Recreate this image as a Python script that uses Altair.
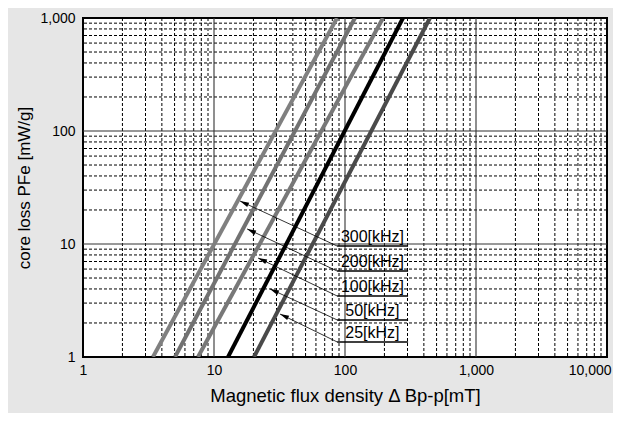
import altair as alt
import pandas as pd

# ---- data ----
freqs = ["300[kHz]", "200[kHz]", "100[kHz]", "50[kHz]", "25[kHz]"]
line_colors = ["#808080", "#727272", "#787878", "#000000", "#4a4a4a"]
# x where each curve crosses PFe = 1 and PFe = 1000
x_at_y1 = [3.42, 5.04, 7.55, 12.8, 20.2]
x_at_y1000 = [86.9, 119, 195, 277, 445]
y_bottom = 1
y_top = 1000

# annotation arrows
tip_x = [15.8, 17.9, 21.7, 26.8, 31.9]
tip_y = [24.0, 13.6, 7.52, 4.0, 2.40]
label_y = [9.6, 5.77, 3.47, 2.13, 1.36]
label_x0 = 87
label_x1 = 303
label_xc = 162

x_major = [10, 100, 1000]
y_major = [10, 100]
x_minor = [m * d for d in [1, 10, 100, 1000] for m in range(2, 10)]
y_minor = [m * d for d in [1, 10, 100] for m in range(2, 10)]
x_ticks = [1, 10, 100, 1000, 10000]
y_ticks = [1, 10, 100, 1000]

FONT = "Liberation Sans"

# ---- tables ----
lines_df = pd.DataFrame(
    [{"f": f, "x": a, "y": y_bottom, "o": 0} for f, a in zip(freqs, x_at_y1)]
    + [{"f": f, "x": b, "y": y_top, "o": 1} for f, b in zip(freqs, x_at_y1000)]
)
ann_df = pd.DataFrame({
    "f": freqs, "tx": tip_x, "ty": tip_y, "ly": label_y,
    "x0": [label_x0] * 5, "x1": [label_x1] * 5, "xc": [label_xc] * 5,
})
xmin_df = pd.DataFrame({"x": x_minor})
ymin_df = pd.DataFrame({"y": y_minor})
xmaj_df = pd.DataFrame({"x": x_major})
ymaj_df = pd.DataFrame({"y": y_major})

xscale = alt.Scale(type="log", domain=[1, 10000], nice=False)
yscale = alt.Scale(type="log", domain=[1, 1000], nice=False)

xaxis = alt.Axis(
    values=x_ticks, format=",.0f", title="Magnetic flux density Δ Bp-p[mT]",
    grid=False, ticks=False, domain=False, labelFlush=False, labelOverlap=False,
    labelAlign={"condition": {"test": "datum.value >= 10000", "value": "right"}, "value": "center"},
    labelOffset={"condition": {"test": "datum.value >= 10000", "value": 4}, "value": 0},
    labelFontSize=14, labelFont=FONT, labelColor="#000", labelPadding=6,
    titleFontSize=18.5, titleFont=FONT, titleFontWeight="normal", titleColor="#000",
    titlePadding=9,
)
yaxis = alt.Axis(
    values=y_ticks, format=",.0f", title="core loss PFe [mW/g]",
    grid=False, ticks=False, domain=False, labelOverlap=False,
    labelFontSize=14, labelFont=FONT, labelColor="#000", labelPadding=8,
    titleFontSize=17, titleFont=FONT, titleFontWeight="normal", titleColor="#000",
    titlePadding=6,
)


def X(field):
    return alt.X(field, type="quantitative", scale=xscale, axis=xaxis)


def Y(field):
    return alt.Y(field, type="quantitative", scale=yscale, axis=yaxis)


grid_minor_x = alt.Chart(xmin_df).mark_rule(
    color="#000", strokeWidth=1, strokeDash=[3, 2]
).encode(x=X("x"))
grid_minor_y = alt.Chart(ymin_df).mark_rule(
    color="#000", strokeWidth=1, strokeDash=[3, 2]
).encode(y=Y("y"))
grid_major_x = alt.Chart(xmaj_df).mark_rule(color="#333", strokeWidth=1.1).encode(x=X("x"))
grid_major_y = alt.Chart(ymaj_df).mark_rule(color="#333", strokeWidth=1.1).encode(y=Y("y"))

curves = alt.Chart(lines_df).mark_line(strokeWidth=4, clip=True).encode(
    x=X("x"), y=Y("y"),
    color=alt.Color("f:N", scale=alt.Scale(domain=freqs, range=line_colors), legend=None),
    order="o:Q",
)

arrows = alt.Chart(ann_df).mark_rule(color="#000", strokeWidth=0.8).encode(
    x=X("x0"), y=Y("ly"), x2="tx", y2="ty"
)
heads = alt.Chart(ann_df).mark_point(
    shape="M0,0L0.8,3L-0.8,3Z", size=36, angle=295, filled=True,
    color="#000", opacity=1, strokeWidth=0,
).encode(x=X("tx"), y=Y("ty"))
underlines = alt.Chart(ann_df).mark_rule(color="#000", strokeWidth=1.5).encode(
    x=X("x0"), x2="x1", y=Y("ly")
)
labels = alt.Chart(ann_df).mark_text(
    font=FONT, fontSize=16, color="#000", align="center", baseline="bottom", dy=-1
).encode(x=X("xc"), y=Y("ly"), text="f:N")

chart = alt.layer(
    grid_minor_x, grid_minor_y, grid_major_x, grid_major_y,
    curves, arrows, heads, underlines, labels,
).properties(
    width=524, height=339,
    autosize=alt.AutoSizeParams(type="none"),
    padding={"left": 75, "top": 10, "right": 6, "bottom": 56},
    background="#e6e6e6",
).configure_view(
    fill="#ffffff", stroke="#000000", strokeWidth=2
)

chart.save("out.html", embed_options={"renderer": "svg", "actions": False})
